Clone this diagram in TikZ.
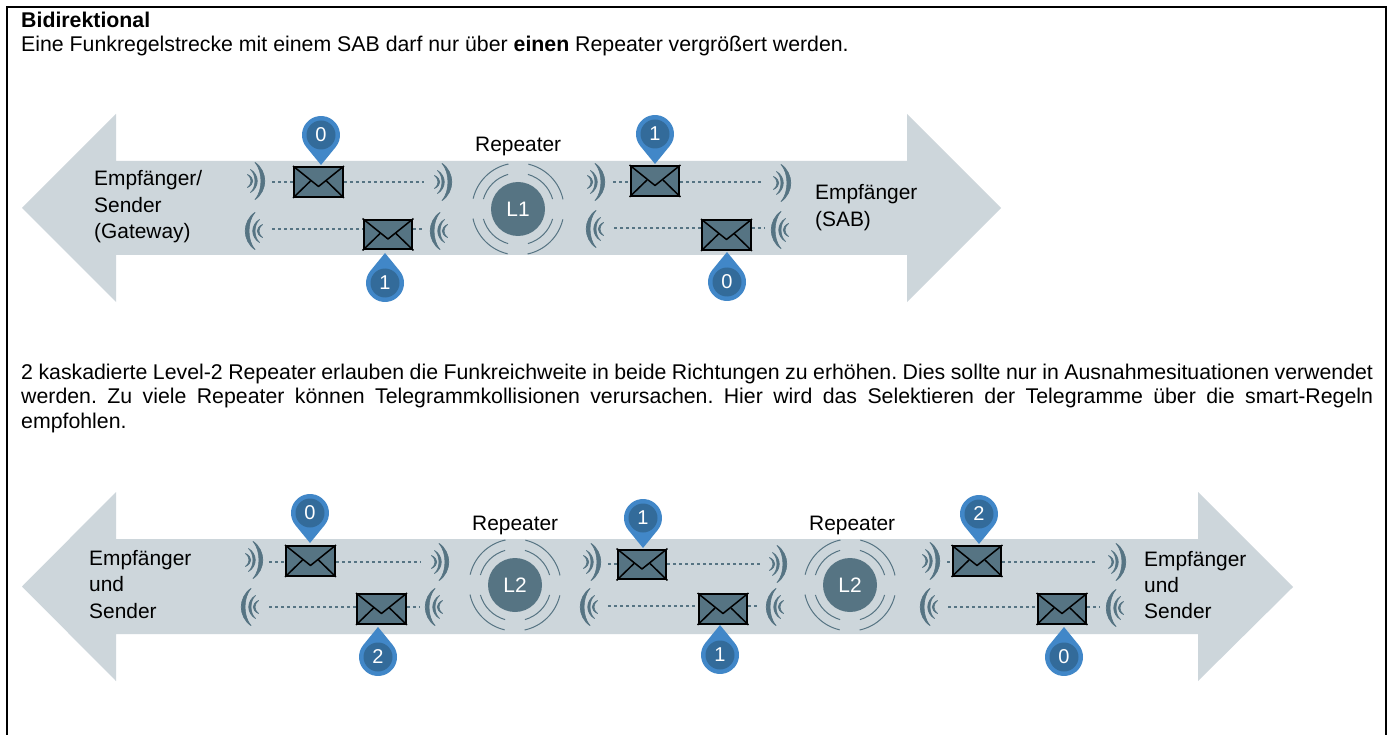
\documentclass[tikz,border=0pt]{standalone}
\usepackage{fontspec}
\setmainfont{Liberation Sans}
\definecolor{band}{HTML}{CDD6DB}
\definecolor{slate}{HTML}{567483}
\definecolor{pinout}{HTML}{4187C8}
\definecolor{pinin}{HTML}{336B9A}
\newcommand{\bodyfont}{\fontsize{21.3}{24}\selectfont\frenchspacing}
\newcommand{\labfont}{\fontsize{20.9}{24}\selectfont}
\tikzset{
  bodytext/.style={anchor=base west,inner sep=0pt,font=\bodyfont},
  lab/.style={anchor=base west,inner sep=0pt,font=\labfont},
  envbox/.style={draw=black,line width=2.4pt,fill=slate,minimum width=48.5pt,minimum height=29.5pt,inner sep=0pt},
  dotline/.style={draw=slate,line width=2.4pt,dash pattern=on 3pt off 3pt},
  arrowband/.style={fill=band,draw=none},
  flap/.style={draw=black,line width=1.5pt},
  ring/.style={draw=slate,line width=1pt},
  crescent/.style={fill=slate,draw=slate,line width=0.7pt,line join=round},
}
% wave: peak x, y, direction (1 = right, -1 = left)
\newcommand{\wave}[3]{%
  \begin{scope}[shift={(#1,#2)},xscale=#3]
    \path[crescent] (-10pt,-18.6pt) .. controls (3pt,-9.5pt) and (3pt,9.5pt) .. (-10pt,18.6pt)
      .. controls (-2pt,9.5pt) and (-2pt,-9.5pt) .. cycle;
    \path[crescent] (-14.5pt,-11.5pt) .. controls (-5.5pt,-6pt) and (-5.5pt,6pt) .. (-14.5pt,11.5pt)
      .. controls (-8.5pt,6pt) and (-8.5pt,-6pt) .. cycle;
    \path[crescent] (-17.5pt,-6.5pt) .. controls (-10.5pt,-3pt) and (-10.5pt,3pt) .. (-17.5pt,6.5pt)
      .. controls (-12.8pt,3pt) and (-12.8pt,-3pt) .. cycle;
  \end{scope}}
% envelope: name, cx, cy
\newcommand{\envel}[3]{%
  \node[envbox] (#1) at (#2,#3) {};
  \draw[flap,line join=round] (#1.north west) -- ($(#1.center)+(0pt,-4.5pt)$) -- (#1.north east);
  \draw[flap] (#1.south west) -- ($(#1.center)+(-8pt,1pt)$);
  \draw[flap] (#1.south east) -- ($(#1.center)+(8pt,1pt)$);}
% dotted row: env, x start, x end, y
\newcommand{\dotrow}[4]{%
  \coordinate (#1-a) at (#2,#4);
  \coordinate (#1-b) at (#3,#4);
  \draw[dotline] (#1-a) -- (#1-a -| #1.west);
  \draw[dotline] (#1-b -| #1.east) -- (#1-b);}
% pin: name, cx, cy, rotation (0 = tip down, 180 = tip up), digit
\newcommand{\pin}[5]{%
  \begin{scope}[shift={(#2,#3)},rotate=#4]
    \fill[pinout] (0pt,-30pt) -- (-39.3:19pt) arc[start angle=-39.3,end angle=219.3,radius=19pt] -- cycle;
    \fill[pinin] (0pt,0pt) circle[radius=14.5pt];
  \end{scope}
  \node[text=white,inner sep=0pt,font=\fontsize{20}{22}\selectfont] (#1) at (#2,#3) {#5};}
% repeater: name, cx, cy, label
\newcommand{\repeater}[4]{%
  \node[circle,fill=slate,minimum size=54pt,inner sep=0pt,text=white,font=\labfont] (#1) at (#2,#3) {#4};
  \begin{scope}[shift={(#2,#3)}]
    \foreach \a in {0,90,180,270}{
      \draw[ring] (\a+12:46pt) arc[start angle=\a+12,end angle=\a+77,radius=46pt];
      \draw[ring] (\a+16:36pt) arc[start angle=\a+16,end angle=\a+74,radius=36pt];
    }
  \end{scope}}
\usetikzlibrary{calc}
\begin{document}
\begin{tikzpicture}[x=1pt,y=-1pt]
\useasboundingbox (0,0) rectangle (1394,735);
\fill[white] (0,0) rectangle (1394,735);
% frame
\draw[line width=2pt] (7,735) -- (7,7) -- (1386,7) -- (1386,735);
% text
\node[bodytext] (title) at (21,28) {\textbf{Bidirektional}};
\node[bodytext] (intro) at (21,52) {Eine Funkregelstrecke mit einem SAB darf nur über \textbf{einen} Repeater vergrößert werden.};
\node[bodytext] (p1) at (21,379) {\hbox to 1352pt{2 kaskadierte Level-2 Repeater erlauben die Funkreichweite in beide Richtungen zu erhöhen. Dies sollte nur in Ausnahmesituationen verwendet}};
\node[bodytext] (p2) at (21,403.5) {\hbox to 1352pt{werden. Zu viele Repeater können Telegrammkollisionen verursachen. Hier wird das Selektieren der Telegramme über die smart-Regeln}};
\node[bodytext] (p3) at (21,428) {empfohlen.};
% top band
\fill[arrowband] (22,208) -- (116,114) -- (116,161) -- (907,161) -- (907,114) -- (1001,208) -- (907,302) -- (907,255) -- (116,255) -- (116,302) -- cycle;
% bottom band
\fill[arrowband] (22,586.5) -- (116,492) -- (116,539) -- (1198,539) -- (1198,492) -- (1293,587) -- (1198,681) -- (1198,634) -- (116,634) -- (116,681) -- cycle;
% top labels
\node[lab] (l1) at (94,186) {Empfänger/};
\node[lab] (l2) at (94,212.5) {Sender};
\node[lab] (l3) at (94,239) {(Gateway)};
\node[lab] (r1) at (815,200) {Empfänger};
\node[lab] (r2) at (815,227) {(SAB)};
\node[lab] (rep1) at (475,152) {Repeater};
% bottom labels
\node[lab] (l4) at (89,565) {Empfänger};
\node[lab] (l5) at (89,591) {und};
\node[lab] (l6) at (89,618) {Sender};
\node[lab] (r4) at (1144,566) {Empfänger};
\node[lab] (r5) at (1144,592.5) {und};
\node[lab] (r6) at (1144,618) {Sender};
\node[lab] (rep2) at (472,530) {Repeater};
\node[lab] (rep3) at (809,530) {Repeater};
% repeaters
\repeater{ra}{518}{209}{L1}
\repeater{rb}{515}{585}{L2}
\repeater{rc}{850}{585}{L2}
% top waves
\wave{265}{181}{1}\wave{452}{182}{1}\wave{605}{182}{1}\wave{791}{183}{1}
\wave{245}{231}{-1}\wave{430}{231}{-1}\wave{586}{229}{-1}\wave{771}{230}{-1}
% bottom waves
\wave{263}{560}{1}\wave{449}{562}{1}\wave{601}{562}{1}\wave{787}{564}{1}\wave{940}{561}{1}\wave{1126}{562}{1}
\wave{241}{607}{-1}\wave{425}{607}{-1}\wave{580}{607}{-1}\wave{766}{607}{-1}\wave{920}{607}{-1}\wave{1106}{608}{-1}
% envelopes top
\envel{e1}{318.5}{182}
\envel{e2}{388}{234.5}
\envel{e3}{655}{181}
\envel{e4}{726.5}{235}
% envelopes bottom
\envel{e5}{310.5}{561}
\envel{e6}{381.5}{609}
\envel{e7}{642}{564.5}
\envel{e8}{723}{609}
\envel{e9}{977}{561}
\envel{e10}{1062}{609}
% dotted rows
\dotrow{e1}{272}{424}{182}
\dotrow{e2}{272}{423}{229}
\dotrow{e3}{613}{763}{182}
\dotrow{e4}{614}{765}{228}
\dotrow{e5}{269}{420}{562}
\dotrow{e6}{269}{420}{607}
\dotrow{e7}{608}{760}{564}
\dotrow{e8}{608}{760}{606}
\dotrow{e9}{947}{1098}{562}
\dotrow{e10}{948}{1100}{607}
% pins
\pin{p-a}{321}{135}{0}{0}
\pin{p-b}{385}{283}{180}{1}
\pin{p-c}{655}{134}{0}{1}
\pin{p-d}{727}{282}{180}{0}
\pin{p-e}{310}{513}{0}{0}
\pin{p-f}{378}{657}{180}{2}
\pin{p-g}{643}{518}{0}{1}
\pin{p-h}{720}{655}{180}{1}
\pin{p-i}{979}{514}{0}{2}
\pin{p-j}{1064}{657}{180}{0}
\end{tikzpicture}
\end{document}
